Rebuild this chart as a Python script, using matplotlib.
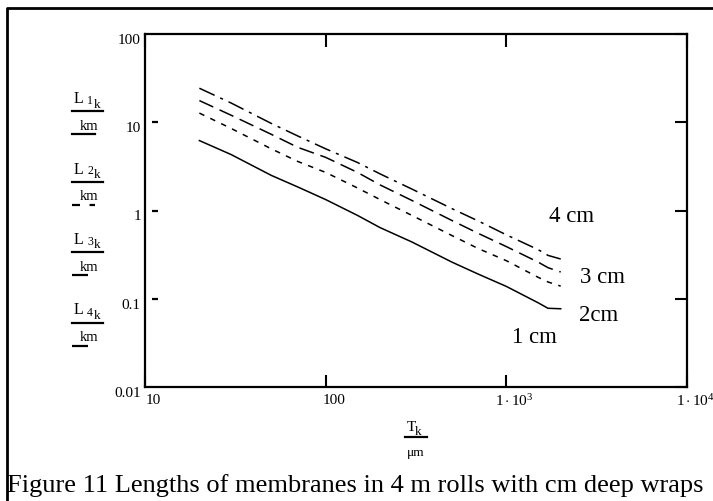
import matplotlib
matplotlib.use("Agg")
import matplotlib.pyplot as plt
from matplotlib.lines import Line2D
from matplotlib.transforms import ScaledTranslation, blended_transform_factory

plt.rcParams['font.family'] = 'Liberation Serif'
plt.rcParams['mathtext.fontset'] = 'custom'
plt.rcParams['mathtext.rm'] = 'Liberation Serif'
plt.rcParams['mathtext.it'] = 'Liberation Serif:italic'

# membrane thickness T [um] and roll lengths L [km] for 1..4 cm deep wraps
thick = [20, 30, 50, 70, 100, 150, 200, 300, 500, 700, 1000, 1500, 1700, 2000]
len1 = [6.2, 4.3, 2.5, 1.85, 1.33, 0.88, 0.64, 0.44, 0.26, 0.19, 0.138, 0.090, 0.078, 0.077]
len2 = [12.7, 8.5, 5.0, 3.6, 2.7, 1.8, 1.33, 0.88, 0.52, 0.37, 0.27, 0.175, 0.155, 0.139]
len3 = [17.6, 12.0, 7.3, 5.2, 4.0, 2.7, 1.95, 1.3, 0.77, 0.55, 0.39, 0.26, 0.225, 0.201]
len4 = [24.3, 16.5, 9.7, 7.0, 5.0, 3.5, 2.6, 1.75, 1.05, 0.76, 0.53, 0.36, 0.31, 0.282]

xticks = [10, 100, 1000, 10000]
xticklabels = ["10", "100", r"$1\cdot10^{3}$", r"$1\cdot10^{4}$"]
yticks = [0.01, 0.1, 1, 10, 100]
yticklabels = ["0.01", "0.1", "1", "10", "100"]

# (text, T, L) for the depth labels
depthLabels = [("4 cm", 1720, 0.88), ("3 cm", 2550, 0.181),
               ("2cm", 2520, 0.0671), ("1 cm", 1075, 0.0378)]

styles = ["-", (0, (3.6, 4.3)), (0, (10, 4.5)), (0, (11, 4, 2, 4))]

W, H = 713, 502
fig = plt.figure(figsize=(W/100, H/100), dpi=100)
ax = fig.add_axes([145/W, 1-388/H, 542/W, 353/H])

def fx(x): return x/W
def fy(y): return 1-y/H

for vals, ls in zip([len1, len2, len3, len4], styles):
    ax.plot(thick, vals, color="black", lw=1.1, linestyle=ls)

ax.set_xscale("log")
ax.set_yscale("log")
ax.set_xlim(10, 10000)
ax.set_ylim(0.01, 100)
ax.minorticks_off()
ax.set_xticks(xticks, labels=xticklabels)
ax.set_yticks(yticks, labels=yticklabels)
ax.tick_params(axis="x", which="both", direction="in", top=True, bottom=True,
               length=9, width=1.5, labelsize=11, pad=4)
ax.tick_params(axis="y", which="both", direction="in", left=False, right=True,
               length=9, width=1.5, labelsize=11, pad=3)
for sp in ax.spines.values():
    sp.set_linewidth(1.6)

xoff = ScaledTranslation(8/100, 0, fig.dpi_scale_trans)
for lab in ax.get_xticklabels():
    lab.set_transform(lab.get_transform() + xoff)
yoff = ScaledTranslation(0, -4/100, fig.dpi_scale_trans)
for lab in ax.get_yticklabels():
    lab.set_transform(lab.get_transform() + yoff)

# short detached marks on the left side
blend = blended_transform_factory(ax.transAxes, ax.transData)
ax.plot([0.0185]*3, [10, 1, 0.1], linestyle="none", marker="_", markersize=5,
        markeredgewidth=1.6, color="black", transform=blend, clip_on=False)

for txt, t, l in depthLabels:
    ax.text(t, l, txt, fontsize=16.5, ha="left", va="center")

# y-axis stacked labels, Mathcad style
for i in range(4):
    y0 = 103 + i*70.5
    fig.text(fx(74), fy(y0), "L", fontsize=11.5, va="baseline")
    fig.text(fx(87), fy(y0+1), str(i+1), fontsize=8.5, va="baseline")
    fig.text(fx(94), fy(y0+4.5), "k", fontsize=9.5, va="baseline")
    fig.add_artist(Line2D([fx(72), fx(103)], [fy(y0+9), fy(y0+9)], color="black", lw=1.6))
    fig.text(fx(80), fy(y0+27), "km", fontsize=10.5, va="baseline")
    sampleLen = 95 if i < 2 else 88
    fig.add_artist(Line2D([fx(72), fx(sampleLen)], [fy(y0+32), fy(y0+32)], color="black",
                          lw=1.6, linestyle=styles[i]))

# x-axis stacked label
fig.text(fx(407), fy(431), "T", fontsize=11, va="baseline")
fig.text(fx(415), fy(435), "k", fontsize=9.5, va="baseline")
fig.add_artist(Line2D([fx(405), fx(427)], [fy(438), fy(438)], color="black", lw=1.6))
fig.text(fx(416), fy(456), "\u03bcm", fontsize=9.5, va="baseline", ha="center")

# caption and frame
fig.text(fx(7), fy(492), "Figure 11 Lengths of membranes in 4 m rolls with cm deep wraps",
         fontsize=19, va="baseline")
fig.add_artist(Line2D([fx(7), fx(7), fx(713)], [fy(502), fy(9), fy(9)], color="black", lw=2))

fig.savefig("out.png", dpi=100)
